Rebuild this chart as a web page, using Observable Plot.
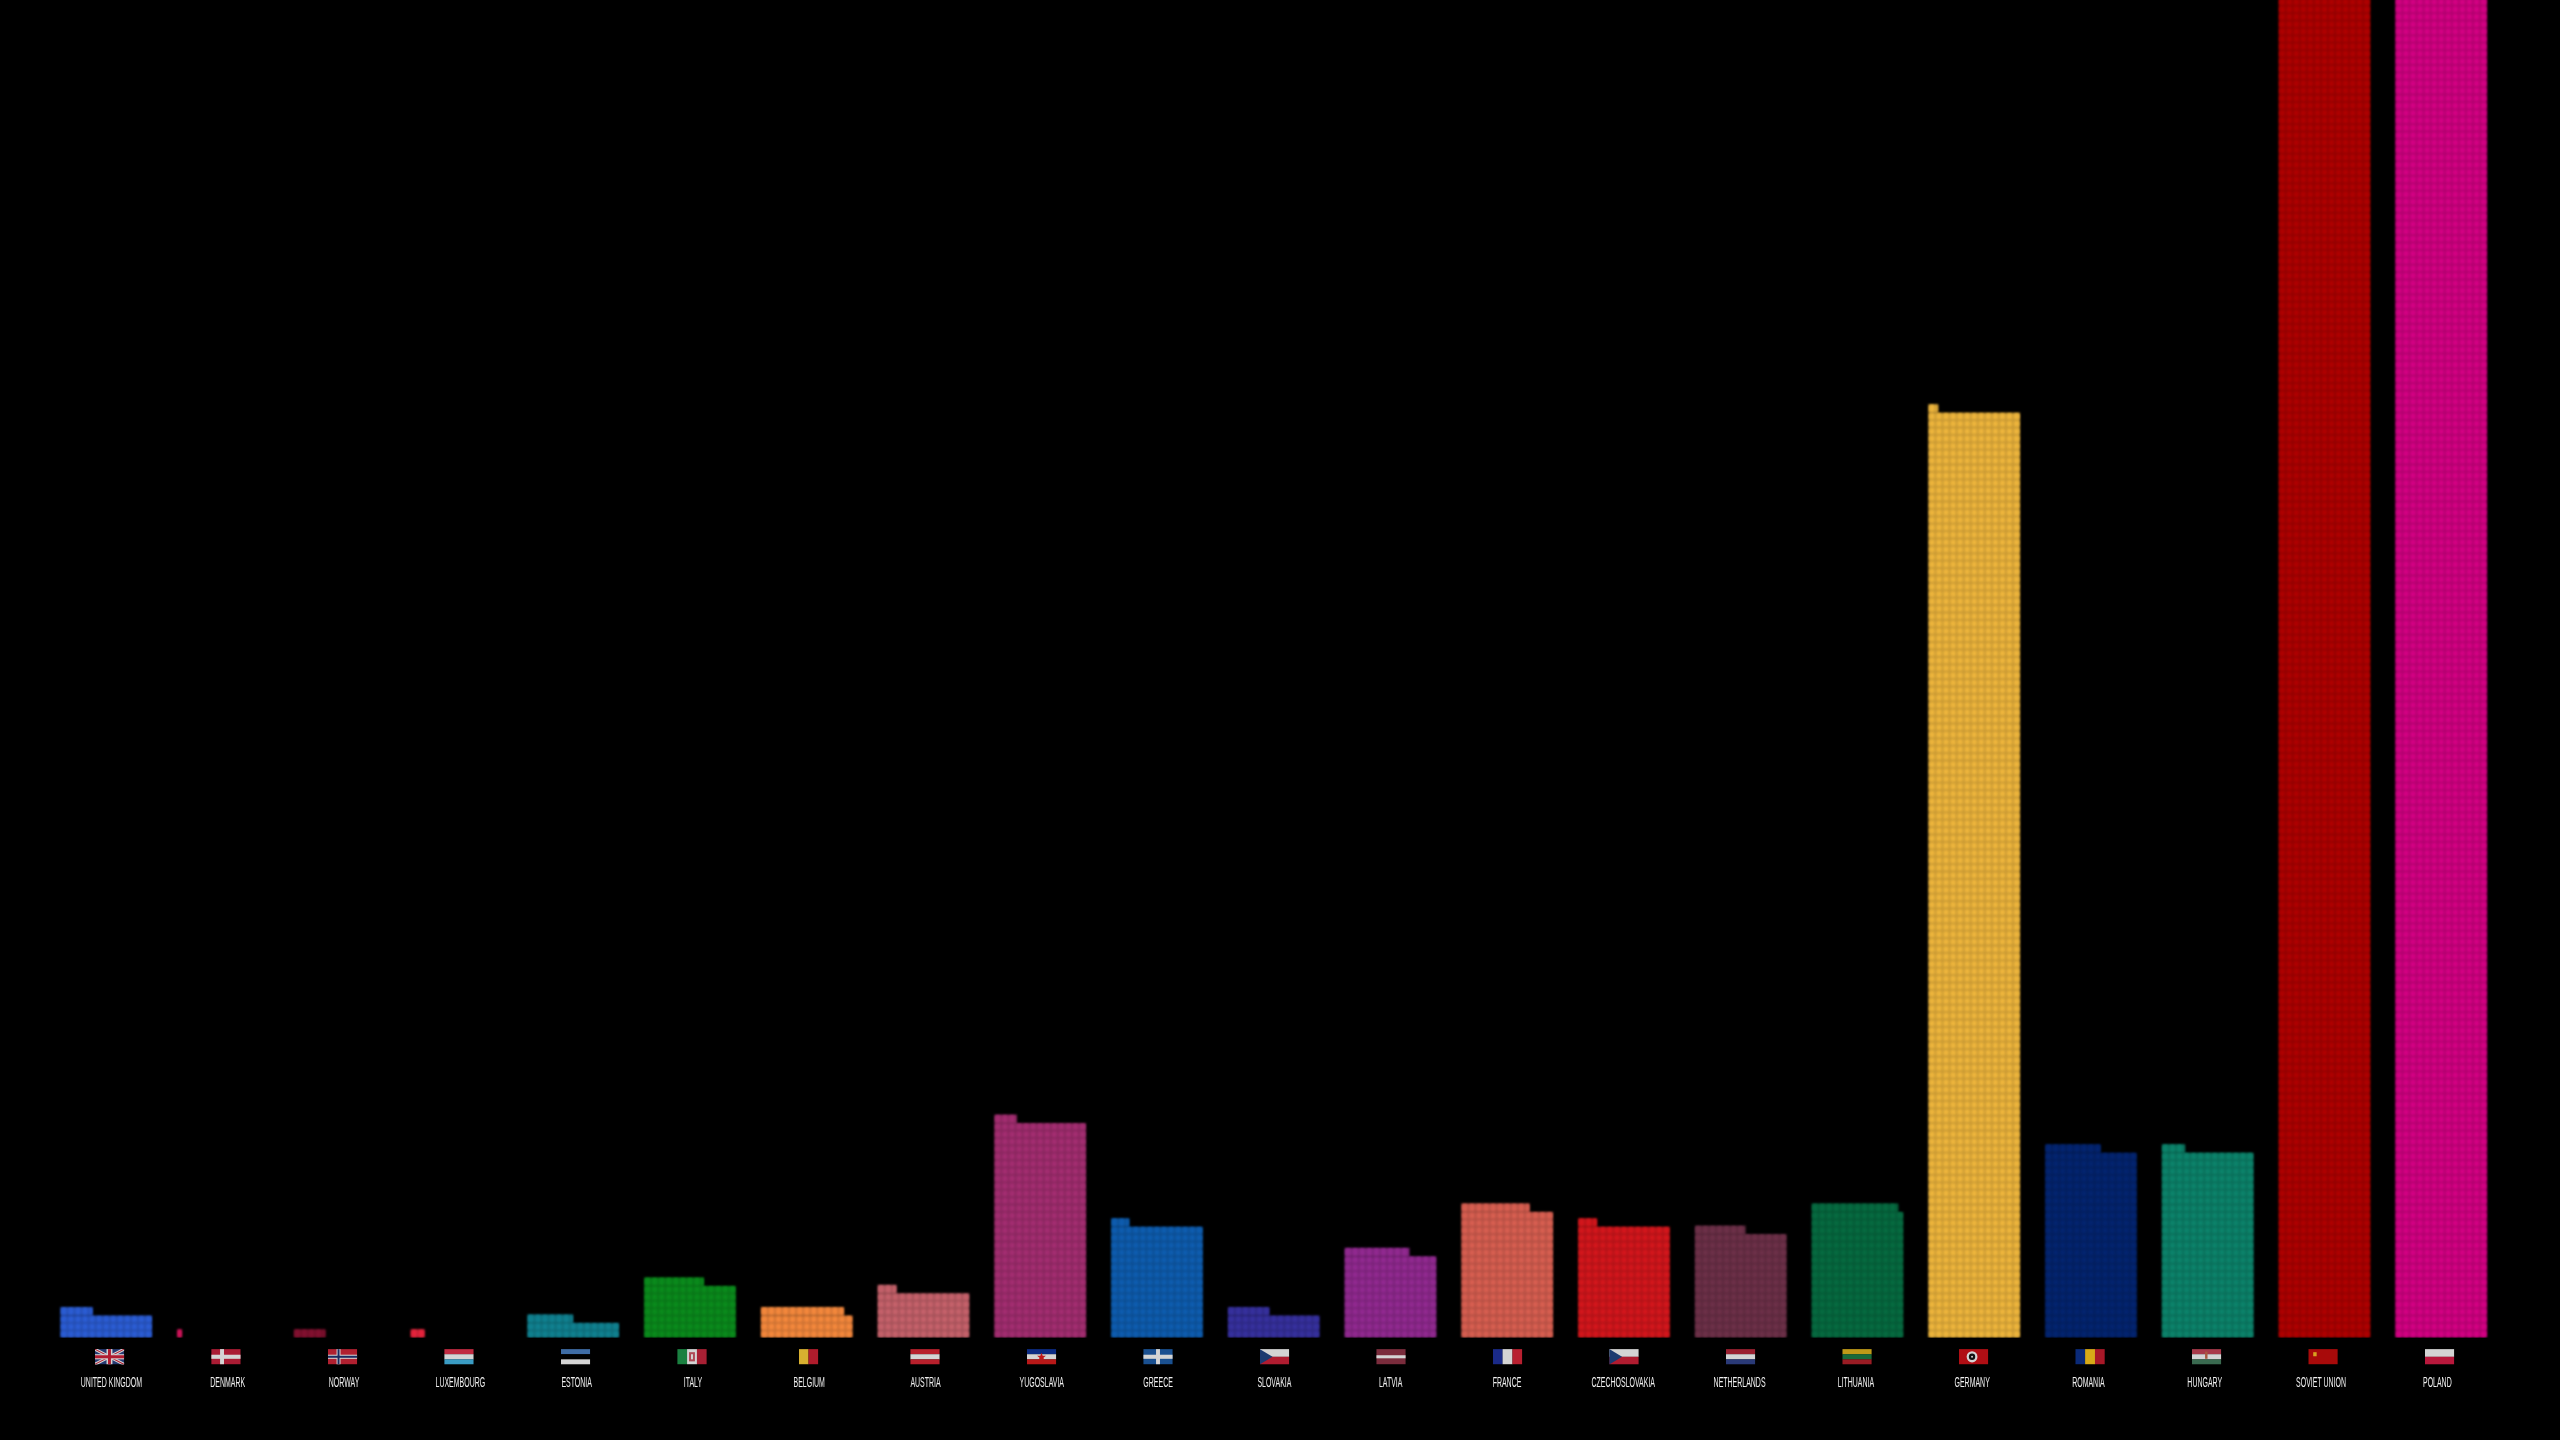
<!DOCTYPE html>
<html><head><meta charset="utf-8">
<script src="https://cdn.jsdelivr.net/npm/d3@7"></script>
<script src="https://cdn.jsdelivr.net/npm/@observablehq/plot@0.6"></script>
<style>html,body{margin:0;padding:0;background:#000;overflow:hidden}svg{display:block}
.back,.cell{filter:blur(1.1px)}.flag{filter:blur(0.6px)}.lab{filter:blur(0.35px)}</style>
</head><body><div id="chart"></div>
<script>
const countries = ["UNITED KINGDOM","DENMARK","NORWAY","LUXEMBOURG","ESTONIA","ITALY","BELGIUM","AUSTRIA","YUGOSLAVIA","GREECE","SLOVAKIA","LATVIA","FRANCE","CZECHOSLOVAKIA","NETHERLANDS","LITHUANIA","GERMANY","ROMANIA","HUNGARY","SOVIET UNION","POLAND"];
// complete rows of 13 cells, then the cells in the unfinished top row
const fullRows = [3,0,0,0,2,7,3,6,29,15,3,11,17,15,14,17,125,25,25,230,260];
const partialCells = [4.6,0.7,4.5,2,6.5,8.5,11.8,2.7,3.2,2.6,5.9,9.2,9.7,2.7,7.2,12.3,1.4,7.9,3.3,0,0];
const barColors = ["#2b5cd2","#d0145a","#80102f","#e4243c","#10808f","#0a8a1c","#f2873c","#c4616a","#a22d70","#0e5cae","#36309c","#90298f","#d65e50","#d2161c","#6c3048","#066a40","#ecb43c","#03246f","#0c826a","#ae0000","#d20082"];

const W='#d4d4d4',R='#b01c30',B='#1f3a78';
const svgFlag = body => 'data:image/svg+xml;utf8,' + encodeURIComponent(`<svg xmlns="http://www.w3.org/2000/svg" viewBox="0 0 60 30" preserveAspectRatio="none" width="60" height="30">${body}</svg>`);
const hs = (...c) => c.map((k,i)=>`<rect x="0" y="${i*30/c.length}" width="60" height="${30/c.length+0.2}" fill="${k}"/>`).join('');
const vs = (...c) => c.map((k,i)=>`<rect x="${i*60/c.length}" y="0" width="${60/c.length+0.2}" height="30" fill="${k}"/>`).join('');
const cross = (bg,w,cx=22,in_) => `<rect width="60" height="30" fill="${bg}"/><rect x="${cx-4}" width="8" height="30" fill="${w}"/><rect y="11" width="60" height="8" fill="${w}"/>`+(in_?`<rect x="${cx-2}" width="4" height="30" fill="${in_}"/><rect y="13" width="60" height="4" fill="${in_}"/>`:'');
const czech = hs(W,R)+`<path d="M0 0L26 15L0 30Z" fill="#1c3a70"/>`;
const flagImages = [
 `<rect width="60" height="30" fill="#263a72"/><path d="M0 0L60 30M60 0L0 30" stroke="${W}" stroke-width="6"/><path d="M0 0L60 30M60 0L0 30" stroke="${R}" stroke-width="2"/><rect x="24" width="12" height="30" fill="${W}"/><rect y="10" width="60" height="10" fill="${W}"/><rect x="27" width="6" height="30" fill="${R}"/><rect y="12" width="60" height="6" fill="${R}"/>`,
 cross('#aa1c34',W,22),
 cross('#b02030',W,22,'#1c2a60'),
 hs('#c02a40',W,'#3a9cc4'),
 hs('#3f6da6','#000',W),
 vs('#1a8040',W,'#a82034')+`<rect x="24" y="6" width="12" height="18" fill="#a83040" opacity=".85"/><rect x="28" y="10" width="4" height="10" fill="${W}"/>`,
 vs('#d8b030','#b01c2c'),
 hs('#b8202c',W,'#b8202c'),
 hs('#0c2c84',W,'#b81818')+`<path d="M30 7L32.5 13L39 13L34 17L36 23L30 19.5L24 23L26 17L21 13L27.5 13Z" fill="#c01818"/>`,
 cross('#1a5090',W,30),
 czech,
 `<rect width="60" height="30" fill="#7a2c3c"/><rect y="12" width="60" height="6" fill="${W}"/>`,
 vs('#1a2a88',W,'#b82030'),
 czech,
 hs('#9a2030',W,'#2a3a78'),
 hs('#c09a18','#1a6a3a','#9a1c24'),
 `<rect width="60" height="30" fill="#b00e14"/><circle cx="27" cy="15" r="11" fill="${W}"/><circle cx="27" cy="15" r="6.5" fill="#111"/><circle cx="27" cy="15" r="2" fill="${W}"/>`,
 vs('#0a2a78','#d8aa18','#a81828'),
 hs('#a83a4a',W,'#3a6a50')+`<rect x="27" y="5" width="5" height="14" fill="#a85a40"/>`,
 `<rect width="60" height="30" fill="#a80a0a"/><rect x="10" y="6" width="7" height="8" fill="#d8a020"/>`,
 hs(W,'#b8183c')
].map(svgFlag);
const flagWidths = [29.5,29.5,29.5,29.5,29.5,29.5,19.6,29.5,29.5,29.5,29.5,29.5,29.5,29.5,29.5,29.5,29.5,29.5,29.5,29.5,29.5];

const colsPerBar = 13, barSpan = 0.785;
const table = countries.map((name,i)=>({name,i,rows:fullRows[i],partial:partialCells[i],color:barColors[i],flag:flagImages[i],fw:flagWidths[i]}));
const colX = (d,c) => d.i + c/colsPerBar*barSpan;
const cells = [];
for (const d of table) {
  for (let r=0;r<d.rows;r++) for (let c=0;c<colsPerBar;c++) cells.push({x1:colX(d,c),x2:colX(d,c+1),y1:r,y2:r+1,color:d.color});
  for (let c=0;c<d.partial;c++) cells.push({x1:colX(d,c),x2:colX(d,Math.min(c+1,d.partial)),y1:d.rows,y2:d.rows+1.15,color:d.color});
}
const backing = [];
for (const d of table) {
  if (d.rows) backing.push({x1:colX(d,0),x2:colX(d,colsPerBar),y1:0,y2:d.rows,color:d.color});
  if (d.partial) backing.push({x1:colX(d,0),x2:colX(d,d.partial),y1:d.rows,y2:d.rows+1.15,color:d.color});
}

const chart = Plot.plot({
  width:2560,height:1440,marginLeft:0,marginRight:0,marginTop:0,marginBottom:102.3,
  style:{background:"#000"},
  x:{axis:null,domain:[-0.5173,21.4100]},
  y:{axis:null,domain:[0,180.77]},
  color:{type:"identity"},
  marks:[
    Plot.rect(backing,{x1:"x1",x2:"x2",y1:"y1",y2:"y2",fill:"color",fillOpacity:0.86,clip:true,className:"back"}),
    Plot.rect(cells,{x1:"x1",x2:"x2",y1:"y1",y2:"y2",fill:"color",insetLeft:0.9,insetRight:0.9,insetTop:0.9,insetBottom:0.9,rx:1.5,clip:true,className:"cell"}),
    Plot.image(table,{x:d=>0.416+d.i*0.9979,y:()=>-2.51,src:"flag",width:"fw",height:15.3,preserveAspectRatio:"none",className:"flag"}),
    Plot.text(table,{x:d=>0.433+d.i*0.9961,y:()=>-5.95,text:"name",fill:"#f0f0f0",fontSize:15.5,fontFamily:"Liberation Sans",className:"lab"})
  ]
});
document.getElementById("chart").appendChild(chart);
chart.querySelectorAll(".lab text").forEach(t=>{
  t.setAttribute("lengthAdjust","spacingAndGlyphs");
  t.setAttribute("textLength",t.getComputedTextLength()*0.45);
});
</script></body></html>
